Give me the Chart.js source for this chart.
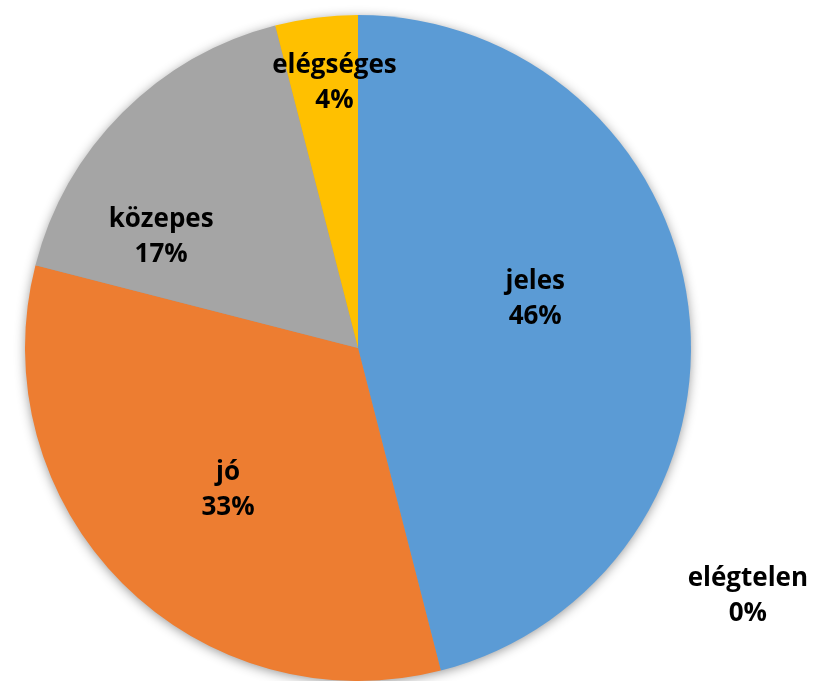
<!DOCTYPE html>
<html>
<head>
<meta charset="utf-8">
<script src="https://cdn.jsdelivr.net/npm/chart.js@4.4.0/dist/chart.umd.min.js"></script>
<style>
  html, body { margin: 0; padding: 0; background: #fff; }
  #wrap { width: 813px; height: 681px; position: relative; }
</style>
</head>
<body>
<div id="wrap"><canvas id="c" width="813" height="681"></canvas></div>
<script>
// ---- data ----
const categories = ["jeles", "jó", "közepes", "elégséges", "elégtelen"];
const percentValues = [46, 33, 17, 4, 0];

// ---- style ----
const sliceColors = ["#5B9BD5", "#ED7D31", "#A5A5A5", "#FFC000", "#4472C4"];
// label placement: [angle nudge from slice middle (deg), radius fraction]
const labelNudge = [[-9.3, 0.555], [-1.9, 0.571], [-14.8, 0.684], [2.2, 0.81], [122.1 - 360, 1.382]];

const shadowPlugin = {
  id: 'pieShadow',
  beforeDatasetsDraw(chart) {
    const arc = chart.getDatasetMeta(0).data[0];
    if (!arc) return;
    const { x, y, outerRadius } = arc.getProps(['x', 'y', 'outerRadius'], true);
    const ctx = chart.ctx;
    ctx.save();
    ctx.shadowColor = 'rgba(0,0,0,0.45)';
    ctx.shadowBlur = 12;
    ctx.shadowOffsetX = 0;
    ctx.shadowOffsetY = 2;
    ctx.fillStyle = '#999';
    ctx.beginPath();
    ctx.arc(x, y, outerRadius - 1, 0, Math.PI * 2);
    ctx.fill();
    ctx.restore();
  }
};

const labelPlugin = {
  id: 'sliceLabels',
  afterDatasetsDraw(chart) {
    const ctx = chart.ctx;
    const meta = chart.getDatasetMeta(0);
    ctx.save();
    ctx.font = 'bold 26px "Open Sans", Lato, sans-serif';
    ctx.fillStyle = '#000';
    ctx.textAlign = 'center';
    ctx.textBaseline = 'middle';
    meta.data.forEach((arc, i) => {
      const p = arc.getProps(['x', 'y', 'startAngle', 'endAngle', 'outerRadius'], true);
      const mid = (p.startAngle + p.endAngle) / 2 + labelNudge[i][0] * Math.PI / 180;
      const r = p.outerRadius * labelNudge[i][1];
      const cx = p.x + Math.cos(mid) * r;
      const cy = p.y + Math.sin(mid) * r;
      ctx.fillText(categories[i], cx, cy - 14);
      ctx.fillText(percentValues[i] + '%', cx, cy + 21);
    });
    ctx.restore();
  }
};

new Chart(document.getElementById('c'), {
  type: 'pie',
  data: {
    labels: categories,
    datasets: [{
      data: percentValues,
      backgroundColor: sliceColors,
      borderWidth: 0,
      hoverOffset: 0
    }]
  },
  options: {
    responsive: false,
    animation: false,
    radius: 333,
    layout: { padding: { top: 15, bottom: 0, left: 25, right: 122 } },
    plugins: {
      legend: { display: false },
      tooltip: { enabled: false },
      title: { display: false }
    }
  },
  plugins: [shadowPlugin, labelPlugin]
});
</script>
</body>
</html>
